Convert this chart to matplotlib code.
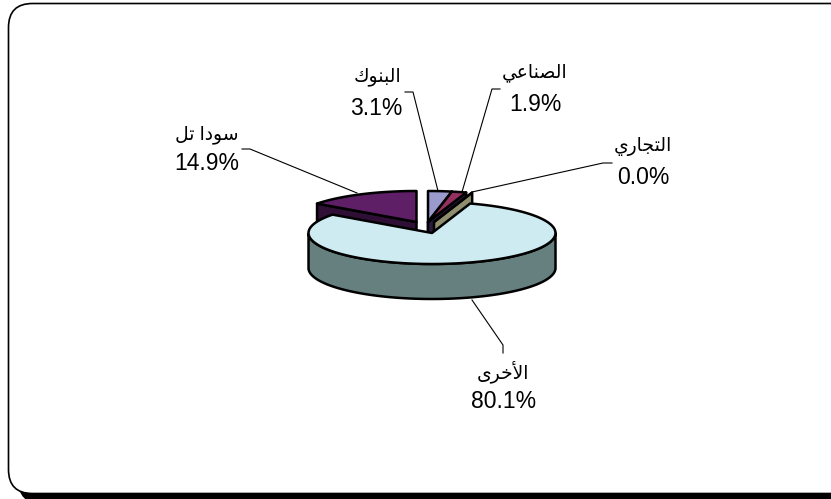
import numpy as np
import matplotlib
matplotlib.use('Agg')
import matplotlib.pyplot as plt
from matplotlib.patches import FancyBboxPatch, Polygon

plt.rcParams['font.family'] = ['Liberation Sans', 'DejaVu Sans']

# data
labels = ['البنوك', 'الصناعي', 'التجاري', 'الأخرى', 'سودا تل']
values = [3.1, 1.9, 0.0, 80.1, 14.9]

top_colors = ['#9A9ACC', '#93305F', '#8E8E6E', '#CDEBF0', '#5E1F66']
wall_colors = ['#2A2A60', '#2A1A40', '#8E8E6E', '#668080', '#300F36']
offsets = [(-4, -11), (-4, -11), (2, -11), (0, 0), (-15.5, -11)]
label_pos = [(377, 77), (535, 73), (643, 147), (503, 372), (207, 135)]
pct_pos = [(376, 108), (535, 104), (643, 178), (504, 401), (207, 164)]
leaders = [
    [(405, 92), (413, 92), (438, 191)],
    [(500, 89), (492, 89), (462, 192)],
    [(612, 163), (603, 163), (472, 192)],
    [(503, 353), (503, 345), (472, 300)],
    [(242, 149), (250, 149), (357, 193)],
]

# presentation forms: isolated, final, initial, medial
FORMS = {
    'ا': (0xFE8D, 0xFE8E), 'أ': (0xFE83, 0xFE84), 'د': (0xFEA9, 0xFEAA),
    'ر': (0xFEAD, 0xFEAE), 'و': (0xFEED, 0xFEEE), 'ى': (0xFEEF, 0xFEF0),
    'ل': (0xFEDD, 0xFEDE, 0xFEDF, 0xFEE0), 'ب': (0xFE8F, 0xFE90, 0xFE91, 0xFE92),
    'ت': (0xFE95, 0xFE96, 0xFE97, 0xFE98), 'ج': (0xFE9D, 0xFE9E, 0xFE9F, 0xFEA0),
    'خ': (0xFEA5, 0xFEA6, 0xFEA7, 0xFEA8), 'س': (0xFEB1, 0xFEB2, 0xFEB3, 0xFEB4),
    'ص': (0xFEB9, 0xFEBA, 0xFEBB, 0xFEBC), 'ع': (0xFEC9, 0xFECA, 0xFECB, 0xFECC),
    'ك': (0xFED9, 0xFEDA, 0xFEDB, 0xFEDC), 'ن': (0xFEE5, 0xFEE6, 0xFEE7, 0xFEE8),
    'ي': (0xFEF1, 0xFEF2, 0xFEF3, 0xFEF4),
}
LAM_ALEF = {'ا': (0xFEFB, 0xFEFC), 'أ': (0xFEF7, 0xFEF8)}


def shape(word):
    """matplotlib has no Arabic shaping, so join the letters by hand"""
    out = []
    i = 0
    joined = False
    while i < len(word):
        ch = word[i]
        if ch == ' ':
            out.append(' ')
            joined = False
            i += 1
            continue
        nxt = word[i + 1] if i + 1 < len(word) else ' '
        if ch == 'ل' and nxt in LAM_ALEF:
            out.append(chr(LAM_ALEF[nxt][1 if joined else 0]))
            joined = False
            i += 2
            continue
        forms = FORMS[ch]
        next_joins = nxt in FORMS and len(forms) == 4
        if len(forms) == 2:
            out.append(chr(forms[1 if joined else 0]))
            joined = False
        else:
            if joined:
                out.append(chr(forms[3 if next_joins else 1]))
            else:
                out.append(chr(forms[2 if next_joins else 0]))
            joined = next_joins
        i += 1
    return ''.join(reversed(out))


fig = plt.figure(figsize=(8.31, 4.99), dpi=100)
ax = fig.add_axes([0, 0, 1, 1])
ax.set_xlim(0, 831)
ax.set_ylim(499, 0)
ax.axis('off')

# frame with the heavy shadow along the bottom
ax.add_patch(FancyBboxPatch((18, 30), 850, 474, boxstyle='round,pad=0,rounding_size=24',
                            fc='black', ec='black', lw=0))
ax.add_patch(FancyBboxPatch((8.5, 3.5), 850, 490, boxstyle='round,pad=0,rounding_size=24',
                            fc='white', ec='black', lw=1.2))

CX, CY, RX, RY, DEPTH = 432, 233, 123.5, 31, 35
LW = 1.8


def rim(theta, cx, cy):
    return np.column_stack((cx + RX * np.sin(theta), cy - RY * np.cos(theta)))


# slice angles clockwise from the top
ends = np.cumsum(values) / np.sum(values) * 2 * np.pi
starts = np.concatenate(([0], ends[:-1]))

# back slices first, the big one goes on top of their walls
for i in [4, 0, 1, 2, 3]:
    cx = CX + offsets[i][0]
    cy = CY + offsets[i][1]
    theta = np.linspace(starts[i], ends[i], 200)
    edge = rim(theta, cx, cy)
    apex = np.array([[cx, cy]])
    down = np.array([0, DEPTH])
    if i == 3:
        # outer wall, only the part facing the viewer
        front = theta[(theta > np.pi / 2) & (theta < 3 * np.pi / 2)]
        lip = rim(front, cx, cy)
        ax.add_patch(Polygon(np.vstack((lip, (lip + down)[::-1])), fc=wall_colors[i],
                             ec='black', lw=LW, joinstyle='round'))
    else:
        # cut face toward the viewer
        if i == 4:
            e = edge[0]
        else:
            e = edge[-1]
        ax.add_patch(Polygon(np.vstack((apex, [e], [e + down], apex + down)), fc=wall_colors[i],
                             ec='black', lw=LW, joinstyle='round'))
    ax.add_patch(Polygon(np.vstack((apex, edge)), fc=top_colors[i], ec='black', lw=LW,
                         joinstyle='round'))

for pts in leaders:
    pts = np.array(pts)
    ax.plot(pts[:, 0], pts[:, 1], color='black', lw=0.8)

for name, val, lp, vp in zip(labels, values, label_pos, pct_pos):
    ax.text(lp[0], lp[1], shape(name), fontsize=13.5, ha='center', va='center', color='black')
    ax.text(vp[0], vp[1], f'{val:.1f}%', fontsize=16.5, ha='center', va='center', color='black')

fig.savefig('out.png', dpi=100)
